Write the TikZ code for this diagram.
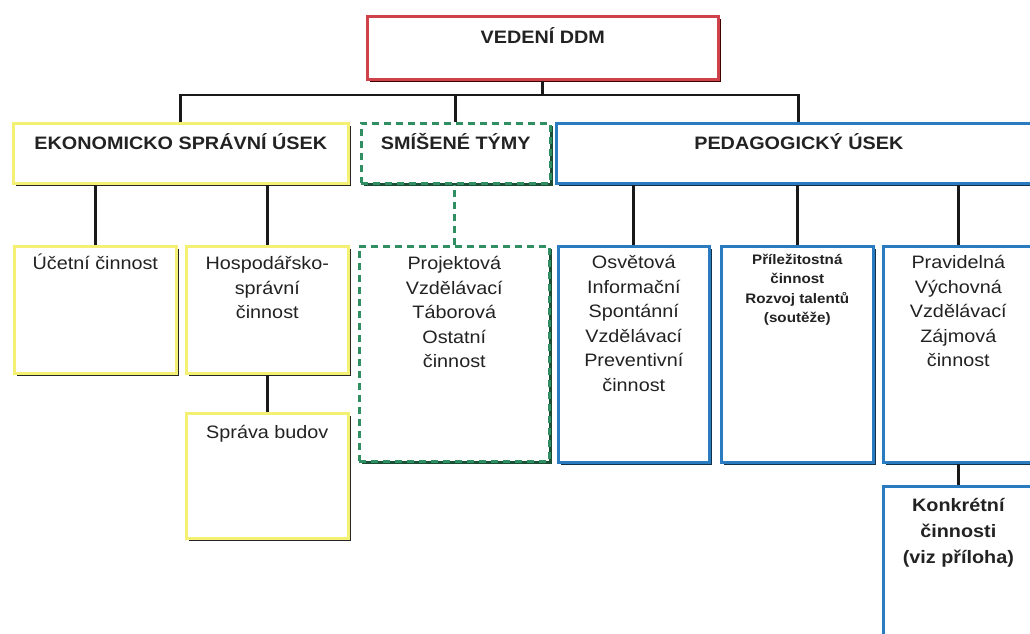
\documentclass[tikz,border=0pt]{standalone}
\usepackage{fontspec}
\setmainfont{Liberation Sans}[FakeStretch=1.1]
\usetikzlibrary{shadows}

\definecolor{ddmred}{HTML}{D0424A}
\definecolor{ddmyellow}{HTML}{F4F074}
\definecolor{ddmgreen}{HTML}{2F8F62}
\definecolor{ddmblue}{HTML}{2A7BBF}
\definecolor{ddmtext}{HTML}{222222}

\tikzset{
  box/.style 2 args={draw, fill=white, line width=2.6pt, anchor=north west,
    minimum width=#1, minimum height=#2, inner sep=0pt},
  redbox/.style={draw=ddmred, drop shadow={shadow xshift=3pt, shadow yshift=-3pt, opacity=1, fill=black!75!red}},
  yellowbox/.style={draw=ddmyellow, drop shadow={shadow xshift=3pt, shadow yshift=-3pt, opacity=1, fill=black!85}},
  greenbox/.style={draw=ddmgreen, dash pattern=on 7pt off 5pt, drop shadow={shadow xshift=3pt, shadow yshift=-3pt, opacity=1, fill=ddmgreen!55!black}},
  bluebox/.style={draw=ddmblue, drop shadow={shadow xshift=3pt, shadow yshift=-3pt, opacity=1, fill=ddmblue!40!black}},
  txt/.style={anchor=base, align=center, inner sep=0pt, text=ddmtext,
    font=\fontsize{18}{24.6}\selectfont},
  head/.style={txt, font=\bfseries\fontsize{18}{24.6}\selectfont},
  conn/.style={line width=2.8pt, draw=black!90},
  dconn/.style={line width=2.8pt, draw=ddmgreen, dash pattern=on 7pt off 5pt}
}

\begin{document}
\begin{tikzpicture}[x=1pt,y=-1pt]
		\clip (0,0) rectangle (1030,634);
		\fill[white] (0,0) rectangle (1030,634);
		
		%top
		\node[box={351pt}{63pt},redbox] (vedeni) at (366,15) {};
		
		%first row
		\node[box={335pt}{60pt},yellowbox] (ekon) at (12,122) {};
		\node[box={189pt}{60pt},greenbox] (smis) at (360,122) {};
		\node[box={485pt}{60pt},bluebox] (ped) at (555,122) {};
		
		%second row
		\node[box={162pt}{127pt},yellowbox] (ucet) at (13,245) {};
		\node[box={162pt}{127pt},yellowbox] (hosp) at (185,245) {};
		\node[box={190pt}{215pt},greenbox] (proj) at (358,245) {};
		\node[box={151pt}{216pt},bluebox] (osv) at (557,245) {};
		\node[box={152pt}{216pt},bluebox] (pril) at (720,245) {};
		\node[box={150pt}{216pt},bluebox] (prav) at (882,245) {};
		
		%third row
		\node[box={162pt}{125pt},yellowbox] (sprava) at (185,412) {};
		\node[box={150pt}{170pt},bluebox] (konk) at (882,485) {};
		
		%lines
		\coordinate (bus) at (0,95);
		\draw[conn] (vedeni.south) -- (vedeni.south |- bus);
		\draw[conn] (ekon.north) |- (ped.north |- bus) -- (ped.north);
		\draw[conn] (smis.north) -- (smis.north |- bus);
		\draw[conn] (ucet.north) -- (ucet.north |- ekon.south);
		\draw[conn] (hosp.north) -- (hosp.north |- ekon.south);
		\draw[dconn] (proj.north) -- (proj.north |- smis.south);
		\draw[conn] (osv.north) -- (osv.north |- ped.south);
		\draw[conn] (pril.north) -- (pril.north |- ped.south);
		\draw[conn] (prav.north) -- (prav.north |- ped.south);
		\draw[conn] (sprava.north) -- (hosp.south);
		\draw[conn] (konk.north) -- (prav.south);
		
		%labels (base = last line)
		\node[head] (vedenit) at ([yshift=-29pt]vedeni.north) {VEDENÍ DDM};
		\node[head] (ekont) at ([yshift=-27.5pt]ekon.north) {EKONOMICKO SPRÁVNÍ ÚSEK};
		\node[head] (smist) at ([yshift=-27.5pt]smis.north) {SMÍŠENÉ TÝMY};
		\node[head] (pedt) at ([yshift=-27.5pt]ped.north) {PEDAGOGICKÝ ÚSEK};
		\node[txt] (ucett) at ([yshift=-24.5pt]ucet.north) {Účetní činnost};
		\node[txt] (hospt) at ([yshift=-73.7pt]hosp.north) {Hospodářsko-\\správní\\činnost};
		\node[txt] (projt) at ([yshift=-122.9pt]proj.north) {Projektová\\Vzdělávací\\Táborová\\Ostatní\\činnost};
		\node[txt] (osvt) at ([yshift=-146.5pt]osv.north) {Osvětová\\Informační\\Spontánní\\Vzdělávací\\Preventivní\\činnost};
		\node[txt, font=\bfseries\fontsize{13.8}{19.6}\selectfont] (prilt) at ([yshift=-77.8pt]pril.north) {Příležitostná\\činnost\\Rozvoj talentů\\(soutěže)};
		\node[txt] (pravt) at ([yshift=-121.9pt]prav.north) {Pravidelná\\Výchovná\\Vzdělávací\\Zájmová\\činnost};
		\node[txt] (spravat) at ([yshift=-26.5pt]sprava.north) {Správa budov};
		\node[head, font=\bfseries\fontsize{18}{26}\selectfont] (konkt) at ([yshift=-78.5pt]konk.north) {Konkrétní\\činnosti\\(viz příloha)};
		\end{tikzpicture}
\end{document}
